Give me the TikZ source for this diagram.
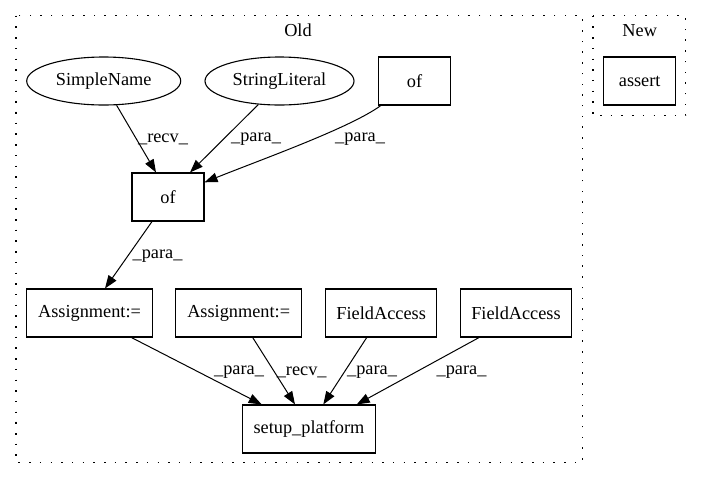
\documentclass[tikz,border=0pt]{standalone}
\usepackage{fontspec}
\setmainfont{Liberation Serif}
\usetikzlibrary{arrows.meta,calc,shapes.geometric}
\begin{document}
\begin{tikzpicture}[x=1pt,y=-1pt,
  every node/.style={font=\fontsize{18.3}{20}\selectfont},
  box/.style={draw,line width=1.1pt,rectangle,inner sep=0pt,minimum height=48pt},
  oval/.style={draw,line width=1.1pt,ellipse,inner sep=0pt,minimum height=48pt},
  cluster/.style={draw,line width=1.3pt,dash pattern=on 1.5pt off 9.2pt},
  edge/.style={line width=1pt,-{Triangle[length=13pt,width=9.5pt]}},
  lbl/.style={inner sep=0pt}]
\useasboundingbox (0,0) rectangle (703,480);
\draw[cluster] (16,15.7) rectangle (582.3,462.7);
\draw[cluster] (593,15.7) rectangle (685.7,115.7);
\node (old) at (298,30) {Old};
\node (new) at (639.7,30.7) {New};
\node[oval,minimum width=154pt] (sn) at (103.7,81) {SimpleName};
\node[oval,minimum width=149pt] (sl) at (279.5,81) {StringLiteral};
\node[box,minimum width=72pt] (ofA) at (414.5,81) {of};
\node[box,minimum width=72pt] (ofB) at (168,197) {of};
\node[box,minimum width=72pt] (as) at (639.7,81) {assert};
\node[box,minimum width=125.7pt] (as1) at (89.5,313) {Assignment:=};
\node[box,minimum width=126pt] (as2) at (238.7,313) {Assignment:=};
\node[box,minimum width=111pt] (fa1) at (381.2,313) {FieldAccess};
\node[box,minimum width=110.7pt] (fa2) at (516,313) {FieldAccess};
\node[box,minimum width=132.7pt] (sp) at (309,429) {setup\_platform};
\draw[edge] (sn.-62) -- ($(ofB.north)+(-12,0)$);
\draw[edge] (sl.-132) -- ($(ofB.north)+(22,0)$);
\draw[edge] (ofA) .. controls (350,128) and (260,160) .. (ofB);
\draw[edge] ($(ofB.south)+(-16,0)$) -- ($(as1.north)+(15.5,0)$);
\draw[edge] ($(as1.south)+(42,0)$) -- ($(sp.north)+(-47.3,0)$);
\draw[edge] ($(as2.south)+(14,0)$) -- ($(sp.north)+(-14,0)$);
\draw[edge] ($(fa1.south)+(-14.5,0)$) -- ($(sp.north)+(14.3,0)$);
\draw[edge] ($(fa2.south)+(-37,0)$) -- ($(sp.north)+(47.7,0)$);
\node[lbl] (l1) at (163,139) {\_recv\_};
\node[lbl] (l2) at (256,139) {\_para\_};
\node[lbl] (l3) at (360,139) {\_para\_};
\node[lbl] (l4) at (157.5,256) {\_para\_};
\node[lbl] (l5) at (239,372) {\_para\_};
\node[lbl] (l6) at (301.7,372) {\_recv\_};
\node[lbl] (l7) at (372,372) {\_para\_};
\node[lbl] (l8) at (461.5,372) {\_para\_};
\end{tikzpicture}
\end{document}
